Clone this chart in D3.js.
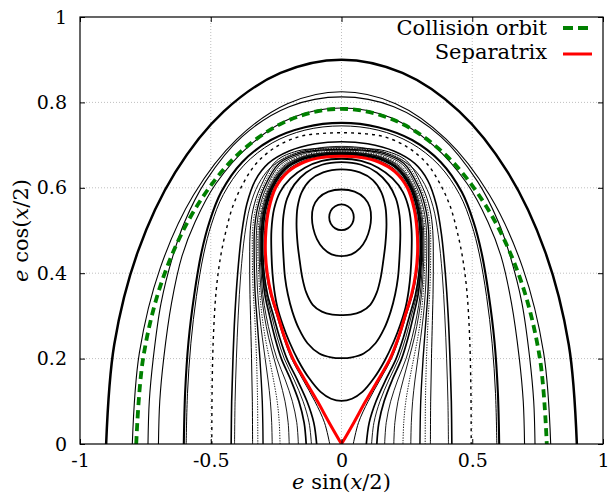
<!DOCTYPE html>
<html><head><meta charset="utf-8">
<script src="https://cdn.jsdelivr.net/npm/d3@7/dist/d3.min.js"></script>
<style>
html,body{margin:0;padding:0;background:#fff;}
svg{display:block;}
text{font-family:"DejaVu Serif",serif;fill:#000;}
</style></head>
<body>
<svg id="chart" width="609" height="499"></svg>
<script>
// ---------- data (right halves, [X, Y] with X = e sin(x/2), Y = e cos(x/2)) ----------
const xTicks = [-1, -0.5, 0, 0.5, 1];
const xTickLabels = ["-1", "-0.5", "0", "0.5", "1"];
const yTicks = [0, 0.2, 0.4, 0.6, 0.8, 1];
const yTickLabels = ["0", "0.2", "0.4", "0.6", "0.8", "1"];
const xGrid = [-0.5, 0, 0.5];
const yGrid = [0.2, 0.4, 0.6, 0.8];
const legendLabels = ["Collision orbit", "Separatrix"];

// open curves: listed bottom (Y=0) -> top (X=0)
const outerCircle = [[0.9,0],[0.869,0.233],[0.779,0.45],[0.636,0.636],[0.45,0.779],[0.233,0.869],[0,0.9]];
const collisionOrbit = [[0.785,0],[0.758,0.203],[0.68,0.393],[0.555,0.555],[0.393,0.68],[0.203,0.758],[0,0.785]];
const orbitO2 = [[0.80,0],[0.773,0.2135],[0.693,0.4125],[0.566,0.583],[0.40,0.714],[0.207,0.797],[0,0.825]];
const orbitO3 = [[0.74,0],[0.735,0.1],[0.72,0.2],[0.69,0.33],[0.645,0.44],[0.60,0.52],[0.52,0.615],[0.38,0.72],[0.2,0.79],[0,0.813]];
const orbitO4 = [[0.70,0],[0.695,0.1],[0.68,0.2],[0.65,0.33],[0.61,0.44],[0.56,0.52],[0.48,0.61],[0.35,0.70],[0.185,0.765],[0,0.787]];
const orbitO5a = [[0.603,0],[0.598,0.12],[0.585,0.24],[0.563,0.35],[0.535,0.45],[0.505,0.52],[0.46,0.59],[0.38,0.66],[0.27,0.712],[0.14,0.742],[0,0.752]];
const orbitO5b = [[0.594,0],[0.589,0.118],[0.576,0.236],[0.555,0.345],[0.527,0.445],[0.497,0.515],[0.452,0.584],[0.373,0.653],[0.265,0.705],[0.14,0.735],[0,0.745]];
const orbitDashed = [[0.496,0],[0.495,0.12],[0.49,0.25],[0.479,0.361],[0.462,0.44],[0.441,0.501],[0.416,0.556],[0.377,0.609],[0.326,0.657],[0.25,0.696],[0.161,0.72],[0.08,0.727],[0,0.729]];
const orbitO7a = [[0.422,0],[0.42,0.1],[0.415,0.2],[0.408,0.3],[0.397,0.4],[0.382,0.492],[0.362,0.562],[0.33,0.617],[0.28,0.657],[0.2,0.686],[0.1,0.703],[0,0.708]];
const orbitO7b = [[0.409,0],[0.407,0.1],[0.402,0.2],[0.395,0.3],[0.385,0.4],[0.37,0.49],[0.35,0.556],[0.318,0.608],[0.27,0.648],[0.195,0.676],[0.1,0.692],[0,0.697]];
const orbitS1 = [[0.045,0],[0.065,0.05],[0.102,0.1],[0.147,0.15],[0.191,0.2],[0.222,0.25],[0.247,0.3],[0.272,0.35],[0.288,0.4],[0.295,0.45],[0.294,0.5],[0.283,0.55],[0.257,0.6],[0.208,0.641],[0.142,0.664],[0.077,0.674],[0,0.677]];
const orbitS2 = [[0.095,0],[0.106,0.05],[0.132,0.1],[0.169,0.15],[0.209,0.2],[0.237,0.25],[0.26,0.3],[0.283,0.35],[0.296,0.4],[0.301,0.45],[0.3,0.5],[0.289,0.55],[0.263,0.6],[0.213,0.644],[0.146,0.667],[0.079,0.676],[0,0.679]];
const orbitS3 = [[0.115,0],[0.124,0.05],[0.147,0.1],[0.181,0.15],[0.219,0.2],[0.246,0.25],[0.267,0.3],[0.288,0.35],[0.299,0.4],[0.304,0.45],[0.303,0.5],[0.292,0.55],[0.266,0.6],[0.215,0.645],[0.148,0.668],[0.08,0.677],[0,0.68]];
const orbitS4 = [[0.135,0],[0.143,0.05],[0.163,0.1],[0.194,0.15],[0.23,0.2],[0.255,0.25],[0.275,0.3],[0.293,0.35],[0.302,0.4],[0.307,0.45],[0.306,0.5],[0.295,0.55],[0.269,0.6],[0.217,0.646],[0.149,0.669],[0.081,0.678],[0,0.681]];
const orbitS5 = [[0.165,0],[0.171,0.05],[0.188,0.1],[0.215,0.15],[0.247,0.2],[0.27,0.25],[0.288,0.3],[0.301,0.35],[0.307,0.4],[0.311,0.45],[0.31,0.5],[0.299,0.55],[0.273,0.6],[0.221,0.648],[0.151,0.671],[0.082,0.68],[0,0.683]];
const orbitS6 = [[0.2,0],[0.204,0.05],[0.216,0.1],[0.236,0.15],[0.258,0.2],[0.279,0.25],[0.295,0.3],[0.306,0.35],[0.312,0.4],[0.315,0.45],[0.314,0.5],[0.303,0.55],[0.277,0.6],[0.225,0.649],[0.154,0.672],[0.084,0.681],[0,0.684]];
const orbitS7 = [[0.235,0],[0.238,0.05],[0.246,0.1],[0.26,0.15],[0.276,0.2],[0.292,0.25],[0.304,0.3],[0.312,0.35],[0.317,0.4],[0.32,0.45],[0.319,0.5],[0.308,0.55],[0.282,0.6],[0.229,0.651],[0.157,0.674],[0.085,0.683],[0,0.686]];
const orbitS8 = [[0.265,0],[0.267,0.05],[0.272,0.1],[0.281,0.15],[0.292,0.2],[0.303,0.25],[0.313,0.3],[0.32,0.35],[0.324,0.4],[0.326,0.45],[0.325,0.5],[0.314,0.55],[0.288,0.6],[0.234,0.654],[0.16,0.677],[0.087,0.686],[0,0.688]];
const orbitS9 = [[0.3,0],[0.301,0.05],[0.303,0.1],[0.307,0.15],[0.312,0.2],[0.318,0.25],[0.324,0.3],[0.33,0.35],[0.333,0.4],[0.334,0.45],[0.333,0.5],[0.322,0.55],[0.296,0.6],[0.239,0.657],[0.163,0.68],[0.088,0.688],[0,0.69]];
const orbitS10 = [[0.32,0],[0.321,0.1],[0.325,0.2],[0.332,0.3],[0.337,0.35],[0.34,0.4],[0.341,0.45],[0.34,0.5],[0.329,0.55],[0.303,0.6],[0.243,0.66],[0.166,0.683],[0.09,0.69],[0,0.692]];
const orbitS11 = [[0.34,0],[0.341,0.1],[0.344,0.2],[0.348,0.3],[0.35,0.35],[0.351,0.4],[0.351,0.45],[0.349,0.5],[0.338,0.55],[0.311,0.6],[0.249,0.663],[0.17,0.686],[0.092,0.692],[0,0.694]];
const separatrix = [[0,0],[0.047,0.05],[0.092,0.1],[0.14,0.15],[0.186,0.2],[0.218,0.25],[0.243,0.3],[0.268,0.35],[0.284,0.4],[0.291,0.45],[0.289,0.5],[0.278,0.55],[0.252,0.6],[0.204,0.638],[0.14,0.661],[0.076,0.671],[0,0.674]];

// closed curves inside the separatrix: bottom (X=0) -> top (X=0)
const ovalD = [[0,0.101],[0.04,0.106],[0.08,0.122],[0.125,0.155],[0.165,0.195],[0.2,0.24],[0.225,0.28],[0.245,0.32],[0.257,0.36],[0.264,0.40],[0.268,0.45],[0.268,0.50],[0.258,0.55],[0.235,0.59],[0.195,0.622],[0.14,0.647],[0.075,0.663],[0,0.668]];
const ovalC = [[0,0.201],[0.04,0.203],[0.085,0.212],[0.13,0.236],[0.163,0.27],[0.188,0.31],[0.205,0.35],[0.216,0.39],[0.222,0.44],[0.225,0.49],[0.222,0.535],[0.208,0.575],[0.18,0.608],[0.135,0.636],[0.075,0.654],[0,0.66]];
const ovalB = [[0,0.302],[0.035,0.303],[0.075,0.31],[0.11,0.326],[0.135,0.355],[0.15,0.39],[0.16,0.43],[0.168,0.47],[0.172,0.515],[0.168,0.555],[0.152,0.59],[0.12,0.618],[0.07,0.636],[0,0.643]];
const ovalA = [[0,0.44],[0.038,0.444],[0.07,0.458],[0.094,0.48],[0.108,0.505],[0.113,0.53],[0.108,0.555],[0.088,0.576],[0.05,0.591],[0,0.596]];
const ovalCenter = [[0,0.501],[0.024,0.505],[0.041,0.516],[0.047,0.531],[0.041,0.546],[0.024,0.557],[0,0.561]];

// ---------- drawing ----------
const x = d3.scaleLinear().domain([-1, 1]).range([80, 603]);
const y = d3.scaleLinear().domain([0, 1]).range([444, 17]);
const svg = d3.select("#chart");

svg.append("defs").append("clipPath").attr("id","plotclip")
  .append("rect").attr("x",x(-1)).attr("y",y(1)).attr("width",x(1)-x(-1)).attr("height",y(0)-y(1));

// grid
const grid = svg.append("g").attr("stroke","#b8b8b8").attr("stroke-width",0.9).attr("stroke-dasharray","1,2");
grid.selectAll(".gx").data(xGrid).join("line")
  .attr("x1",d=>x(d)).attr("x2",d=>x(d)).attr("y1",y(0)).attr("y2",y(1));
grid.selectAll(".gy").data(yGrid).join("line")
  .attr("y1",d=>y(d)).attr("y2",d=>y(d)).attr("x1",x(-1)).attr("x2",x(1));

const line = d3.line().x(d=>x(d[0])).y(d=>y(d[1])).curve(d3.curveCatmullRom.alpha(0.5));
const lineClosed = d3.line().x(d=>x(d[0])).y(d=>y(d[1])).curve(d3.curveCatmullRomClosed.alpha(0.5));

function openFull(half){ // half: bottom -> top on right side
  const left = half.map(p=>[-p[0],p[1]]);
  const right = half.slice(0,-1).reverse();
  return left.concat(right);
}
function closedFull(half){ // half: bottom -> top on right side
  const left = half.slice(1,-1).reverse().map(p=>[-p[0],p[1]]);
  return half.concat(left);
}

const plot = svg.append("g").attr("clip-path","url(#plotclip)").attr("fill","none").attr("stroke-linejoin","round");

const openCurves = [
  {d: outerCircle, w: 2.5},
  {d: orbitO2, w: 1.1},
  {d: orbitO3, w: 1.1},
  {d: orbitO4, w: 1.1},
  {d: orbitO5a, w: 2.1},
  {d: orbitO5b, w: 1.0},
  {d: orbitDashed, w: 1.4, dash: "3,4"},
  {d: orbitO7a, w: 1.6},
  {d: orbitO7b, w: 0.9},
  {d: orbitS11, w: 1.0},
  {d: orbitS10, w: 0.9, dash: "1.3,1.3"},
  {d: orbitS9, w: 1.4},
  {d: orbitS8, w: 0.9},
  {d: orbitS7, w: 0.9, dash: "1.3,1.3"},
  {d: orbitS6, w: 0.9},
  {d: orbitS5, w: 0.9},
  {d: orbitS4, w: 1.7},
  {d: orbitS3, w: 0.9},
  {d: orbitS2, w: 1.7},
  {d: orbitS1, w: 1.0}
];
openCurves.forEach(c=>{
  plot.append("path").attr("d", line(openFull(c.d)))
    .attr("stroke","#000").attr("stroke-width",c.w)
    .attr("stroke-dasharray", c.dash || null);
});
[ovalD, ovalC, ovalB, ovalA, ovalCenter].forEach(o=>{
  plot.append("path").attr("d", lineClosed(closedFull(o)))
    .attr("stroke","#000").attr("stroke-width",1.8);
});
plot.append("path").attr("d", line(openFull(collisionOrbit)))
  .attr("stroke","#008000").attr("stroke-width",3.8).attr("stroke-dasharray","8,5");
plot.append("path").attr("d", line(openFull(separatrix)))
  .attr("stroke","#ff0000").attr("stroke-width",3);

// axes
const tickLen = 5;
const ax = svg.append("g");
ax.append("g").attr("transform",`translate(0,${y(0)})`)
  .call(d3.axisBottom(x).tickValues(xTicks).tickFormat((d,i)=>xTickLabels[i]).tickSizeInner(-tickLen).tickSizeOuter(0).tickPadding(10));
ax.append("g").attr("transform",`translate(0,${y(1)})`)
  .call(d3.axisTop(x).tickValues(xTicks).tickFormat("").tickSizeInner(-tickLen).tickSizeOuter(0));
ax.append("g").attr("transform",`translate(${x(-1)},0)`)
  .call(d3.axisLeft(y).tickValues(yTicks).tickFormat((d,i)=>yTickLabels[i]).tickSizeInner(-tickLen).tickSizeOuter(0).tickPadding(13));
ax.append("g").attr("transform",`translate(${x(1)},0)`)
  .call(d3.axisRight(y).tickValues(yTicks).tickFormat("").tickSizeInner(-tickLen).tickSizeOuter(0));
ax.selectAll(".domain").remove();
ax.selectAll(".tick line").attr("stroke","#000").attr("stroke-width",1);
ax.selectAll(".tick text").attr("font-family","DejaVu Serif").attr("font-size",19).attr("fill","#000");

// border
svg.append("rect").attr("x",x(-1)).attr("y",y(1)).attr("width",x(1)-x(-1)).attr("height",y(0)-y(1))
  .attr("fill","none").attr("stroke","#000").attr("stroke-width",1.2);

// axis labels
const xl = svg.append("text").attr("x",(x(-1)+x(1))/2).attr("y",489).attr("text-anchor","middle").attr("font-size",21);
xl.append("tspan").attr("font-style","italic").text("e");
xl.append("tspan").text(" sin(");
xl.append("tspan").attr("font-style","italic").text("x");
xl.append("tspan").text("/2)");

const yl = svg.append("text").attr("transform",`translate(28,${(y(0)+y(1))/2}) rotate(-90)`).attr("text-anchor","middle").attr("font-size",21);
yl.append("tspan").attr("font-style","italic").text("e");
yl.append("tspan").text(" cos(");
yl.append("tspan").attr("font-style","italic").text("x");
yl.append("tspan").text("/2)");

// legend
const leg = svg.append("g");
const legendStyles = [
  {stroke:"#008000", w:3.8, dash:"10,5", ly:28, ty:35, x2:590},
  {stroke:"#ff0000", w:3, dash:null, ly:54, ty:59, x2:592}
];
legendLabels.forEach((lab,i)=>{
  const s = legendStyles[i];
  leg.append("text").attr("x",547).attr("y",s.ty).attr("text-anchor","end").attr("font-size",21).text(lab);
  leg.append("line").attr("x1",563).attr("x2",s.x2).attr("y1",s.ly).attr("y2",s.ly)
    .attr("stroke",s.stroke).attr("stroke-width",s.w).attr("stroke-dasharray",s.dash);
});
</script>
</body></html>
